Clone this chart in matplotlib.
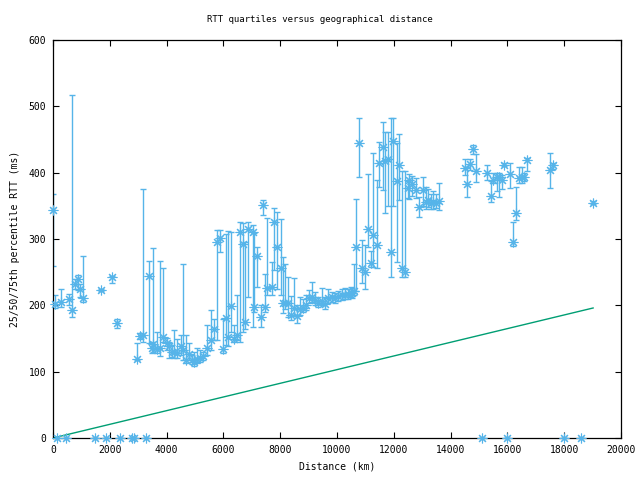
import matplotlib
matplotlib.use("Agg")
import matplotlib.pyplot as plt
import numpy as np

# distance (km), 25th, 50th (median), 75th percentile RTT (ms)
dist = [0, 70, 151, 282, 458, 574, 680, 775, 891, 950, 1067, 1478, 1678, 1866, 2088, 2265, 2358,
        2780, 2850, 2968, 3062, 3180, 3274, 3390, 3474, 3531, 3650, 3766, 3883, 4001, 4093, 4178,
        4259, 4354, 4495, 4587, 4682, 4800, 4882, 4963, 5058, 5174, 5292, 5410, 5551, 5678, 5783,
        5878, 5995, 6090, 6171, 6266, 6371, 6488, 6582, 6700, 6758, 6875, 7030, 7075, 7191, 7311,
        7403, 7462, 7543, 7698, 7790, 7896, 8015, 8085, 8166, 8283, 8378, 8494, 8578, 8694, 8789,
        8906, 9022, 9106, 9222, 9339, 9458, 9574, 9690, 9810, 9926, 10042, 10160, 10270, 10370,
        10480, 10540, 10606, 10666, 10782, 10866, 10982, 11098, 11194, 11275, 11394, 11484, 11604,
        11686, 11803, 11898, 11978, 12097, 12189, 12275, 12390, 12507, 12543, 12626, 12778, 12894,
        13014, 13119, 13211, 13300, 13387, 13482, 13598, 14502, 14584, 14678, 14795, 14890, 15111,
        15288, 15407, 15499, 15618, 15710, 15794, 15875, 15991, 16086, 16203, 16309, 16415, 16498,
        16579, 16694, 17494, 17611, 17998, 18596, 19018]
q25 = [259, 196, 0, 198, 0, 200, 183, 225, 223, 213, 205, 0, 221, 0, 233, 166, 0,
       0, 0, 117, 150, 144, 0, 143, 128, 130, 128, 123, 145, 133, 121, 122,
       120, 120, 125, 118, 113, 118, 112, 109, 113, 115, 118, 125, 133, 147, 148,
       281, 128, 140, 139, 160, 145, 148, 145, 160, 165, 213, 168, 190, 228, 167,
       336, 190, 215, 215, 253, 224, 215, 189, 195, 183, 178, 185, 174, 185, 190,
       193, 203, 205, 200, 197, 200, 195, 204, 205, 204, 207, 208, 210, 209,
       212, 211, 215, 221, 393, 233, 225, 288, 258, 258, 256, 379, 374,
       339, 350, 243, 349, 266, 359, 243, 243, 362, 360, 365, 362, 333,
       350, 345, 348, 345, 345, 346, 344, 397, 363, 404, 428, 386, 0,
       389, 356, 385, 373, 364, 375, 410, 0, 377, 290, 329, 385, 385,
       388, 403, 377, 406, 0, 0, 353]
q50 = [343, 202, 0, 205, 0, 210, 193, 232, 240, 225, 211, 0, 223, 0, 242, 173, 0,
       0, 0, 119, 154, 155, 0, 244, 135, 142, 134, 135, 152, 143, 138, 130,
       129, 128, 139, 133, 118, 127, 118, 115, 119, 120, 124, 135, 148, 164, 295,
       301, 134, 181, 153, 199, 150, 155, 310, 293, 175, 315, 311, 198, 274, 183,
       351, 198, 226, 227, 326, 288, 256, 203, 203, 203, 185, 196, 184, 194, 196,
       201, 211, 212, 208, 203, 207, 202, 211, 212, 211, 214, 215, 216, 217,
       219, 218, 222, 288, 444, 256, 251, 315, 264, 306, 291, 414, 438,
       418, 420, 280, 447, 388, 412, 256, 251, 377, 389, 383, 374, 348,
       374, 356, 359, 355, 356, 354, 358, 407, 383, 413, 436, 403, 0,
       399, 365, 389, 393, 394, 389, 412, 0, 398, 296, 339, 392, 393,
       394, 419, 404, 411, 0, 0, 355]
q75 = [368, 215, 0, 225, 0, 217, 517, 240, 245, 232, 275, 0, 225, 0, 244, 180, 0,
       0, 0, 143, 158, 376, 0, 267, 145, 286, 160, 267, 256, 151, 144, 140,
       163, 150, 155, 262, 155, 143, 125, 130, 135, 133, 130, 170, 193, 180, 314,
       314, 180, 307, 312, 311, 170, 216, 326, 324, 296, 326, 321, 309, 288, 200,
       359, 247, 331, 266, 346, 341, 330, 273, 262, 242, 214, 241, 200, 213, 210,
       215, 223, 235, 220, 212, 226, 212, 225, 220, 218, 222, 224, 226, 225,
       228, 226, 262, 361, 482, 298, 291, 398, 282, 429, 389, 446, 476,
       462, 462, 482, 482, 444, 458, 402, 402, 388, 398, 395, 392, 364,
       393, 378, 375, 368, 372, 368, 384, 420, 409, 420, 441, 428, 0,
       412, 388, 399, 400, 400, 396, 414, 0, 415, 325, 379, 408, 408,
       400, 422, 429, 415, 0, 0, 357]

# green reference line (distance km, RTT ms)
line_x = [0, 19018]
line_y = [0, 196]

blue = "#56B4E9"
green = "#009E73"
mono = "DejaVu Sans Mono"

fig = plt.figure(figsize=(6.4, 4.8), dpi=100)
ax = fig.add_axes([53/640, 42/480, 568/640, 398/480])

d = np.array(dist, dtype=float)
lo = np.array(q25, dtype=float)
md = np.array(q50, dtype=float)
hi = np.array(q75, dtype=float)

ax.errorbar(d, md, yerr=[md - lo, hi - md], fmt="none", ecolor=blue,
            elinewidth=1.0, capsize=2.5, capthick=1.0, zorder=2)
ax.plot(d, md, linestyle="none", marker=(8, 2, 0), markersize=7,
        markeredgewidth=0.8, color=blue, clip_on=False, zorder=3)
ax.plot(line_x, line_y, color=green, linewidth=1.0, zorder=2)

ax.set_xlim(0, 20000)
ax.set_ylim(0, 600)
ax.set_xticks(np.arange(0, 20001, 2000))
ax.set_yticks(np.arange(0, 601, 100))
ax.tick_params(direction="in", length=4, width=0.8, top=True, right=True,
               labelsize=7, pad=5)
for lab in ax.get_xticklabels() + ax.get_yticklabels():
    lab.set_fontfamily(mono)
for s in ax.spines.values():
    s.set_linewidth(0.9)

fig.text(0.5, 1 - 20/480, "RTT quartiles versus geographical distance",
         fontsize=6.5, fontfamily=mono, ha="center", va="center")
ax.set_xlabel("Distance (km)", fontsize=7, fontfamily=mono, labelpad=5)
ax.set_ylabel("25/50/75th percentile RTT (ms)", fontsize=7, fontfamily=mono,
              labelpad=6)

fig.savefig("out.png", dpi=100)
